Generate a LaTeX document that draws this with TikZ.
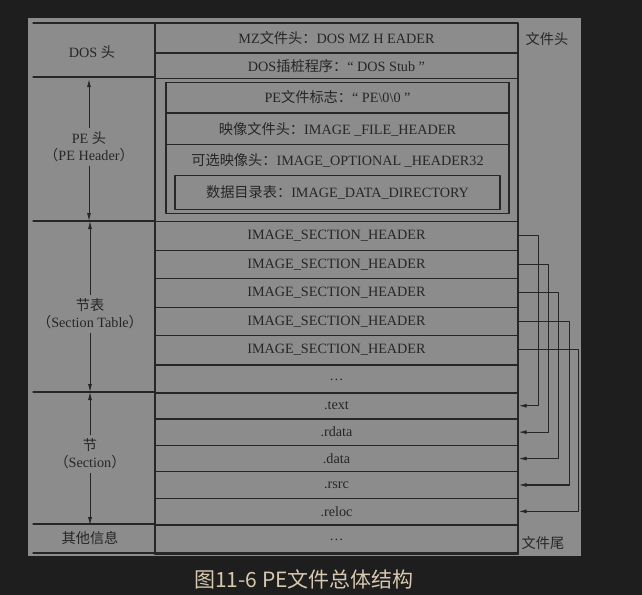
\documentclass[tikz,border=0pt]{standalone}
\usepackage{fontspec}
\setmainfont{Liberation Serif}
\newfontfamily\zhfont{Noto Sans CJK SC}
\usetikzlibrary{arrows.meta}
\definecolor{DiagramBack}{RGB}{30,30,30}
\definecolor{DiagramPanel}{RGB}{140,140,140}
\definecolor{DiagramInk}{RGB}{38,38,38}
\definecolor{DiagramCaption}{RGB}{215,200,175}
\newcommand{\zh}[1]{{\zhfont #1}}

\begin{document}
\begin{tikzpicture}[x=1bp,y=-1bp,line cap=round,line join=round]
  \path[use as bounding box] (0,0) rectangle (642,595);
  \fill[DiagramBack] (0,0) rectangle (642,595);
  \fill[DiagramPanel] (28,18) rectangle (581,556);

  \tikzset{
    rowbox/.style={draw=DiagramInk,line width=1.1bp,minimum width=363bp,
      inner sep=0pt,anchor=north,text=DiagramInk,
      font=\fontsize{14.2bp}{14.2bp}\selectfont},
    innerbox/.style={rowbox,minimum width=343bp},
    sidelabel/.style={inner sep=4bp,align=center,text=DiagramInk,
      font=\fontsize{14.2bp}{17bp}\selectfont},
    sepline/.style={line width=1.1bp,draw=DiagramInk},
    dimarrow/.style={-{Latex[length=8bp,width=4bp]},line width=0.8bp,DiagramInk},
    linkarrow/.style={-{Latex[length=8bp,width=4bp]},line width=1.1bp,DiagramInk},
  }

  % outer frame and left column
  \draw[sepline] (155,23) rectangle (518,553);
  \foreach \y in {23,77,221,392,524,553}
    \draw[sepline] (33,\y) -- (155,\y);

  % DOS header
  \node[rowbox,minimum height=29bp] (mz) at (336.5,23)
    {MZ\zh{文件头：}DOS MZ H EADER};
  \node[rowbox,minimum height=25bp] (stub) at (mz.south)
    {DOS\zh{插桩程序：}“ DOS Stub ”};

  % PE header
  \node[innerbox,minimum height=131bp] (pebox) at (337.5,82) {};
  \node[innerbox,minimum height=30bp] (sig) at (pebox.north)
    {PE\zh{文件标志：}“ PE\textbackslash 0\textbackslash 0 ”};
  \node[innerbox,minimum height=31bp] (filehdr) at (sig.south)
    {\zh{映像文件头：}IMAGE \_FILE\_HEADER};
  \node[text=DiagramInk,font=\fontsize{14.2bp}{14.2bp}\selectfont] (opthdr)
    at (337.5,160) {\zh{可选映像头：}IMAGE\_OPTIONAL \_HEADER32};
  \node[rowbox,minimum width=325bp,minimum height=34bp] (datadir) at (337.5,175)
    {\zh{数据目录表：}IMAGE\_DATA\_DIRECTORY};

  % section table
  \foreach \i in {1,...,5}
    \node[rowbox,minimum height=28.5bp] (sh\i) at (336.5,{221+(\i-1)*28.5})
      {IMAGE\_SECTION\_HEADER};
  \node[rowbox,minimum height=28.5bp] (shdots) at (sh5.south) {\dots};

  % sections
  \foreach \i/\name in {1/.text,2/.rdata,3/.data,4/.rsrc,5/.reloc}
    \node[rowbox,minimum height=26.4bp] (sec\i) at (336.5,{392+(\i-1)*26.4})
      {\name};
  \node[rowbox,minimum height=29bp] (sectail) at (sec5.south) {\dots};

  % header -> section links
  \foreach \i/\dx in {1/20,2/30,3/40,4/51,5/60}
    \draw[linkarrow] (sh\i.east) -- ++(\dx,0) |- (sec\i.east);

  % left labels
  \node[sidelabel] (doslbl) at (92,52) {DOS\ \zh{头}};
  \node[sidelabel] (pelbl) at (89,147)
    {PE \zh{头}\\\zh{（}PE Header\zh{）}};
  \node[sidelabel] (stlbl) at (90,314)
    {\zh{节表}\\\zh{（}Section Table\zh{）}};
  \node[sidelabel] (seclbl) at (90,454)
    {\zh{节}\\\zh{（}Section\zh{）}};
  \node[sidelabel] (otherlbl) at (90,538) {\zh{其他信息}};

  \draw[dimarrow] (pelbl.north) -- (pelbl.north |- stub.south);
  \draw[dimarrow] (pelbl.south) -- (pelbl.south |- sh1.north);
  \draw[dimarrow] (stlbl.north) -- (stlbl.north |- sh1.north);
  \draw[dimarrow] (stlbl.south) -- (stlbl.south |- sec1.north);
  \draw[dimarrow] (seclbl.north) -- (seclbl.north |- sec1.north);
  \draw[dimarrow] (seclbl.south) -- (seclbl.south |- sectail.north);

  % right labels
  \node[sidelabel] (headlbl) at (547,39) {\zh{文件头}};
  \node[sidelabel] (taillbl) at (543,543) {\zh{文件尾}};

  % caption
  \node[text=DiagramCaption,font=\zhfont\fontsize{21bp}{21bp}\selectfont]
    (caption) at (304,579) {图11-6 PE文件总体结构};
\end{tikzpicture}
\end{document}
